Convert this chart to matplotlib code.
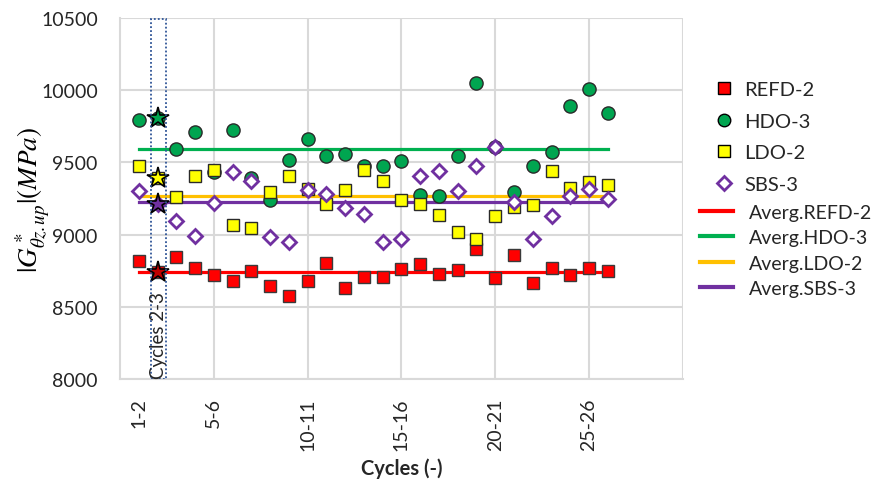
import numpy as np
import matplotlib.pyplot as plt
from matplotlib.lines import Line2D
from matplotlib.patches import Rectangle

plt.rcParams['font.family'] = ['Lato', 'DejaVu Sans']
plt.rcParams['mathtext.fontset'] = 'stix'

# cycle index (1 = "1-2", 2 = "2-3", ...)
cycles = np.arange(1, 27)
tick_pos = [1, 5, 10, 15, 20, 25]
tick_labels = ['1-2', '5-6', '10-11', '15-16', '20-21', '25-26']

refd2 = [8819, 8739, 8843, 8769, 8720, 8676, 8746, 8641, 8572, 8676,
         8801, 8630, 8704, 8704, 8762, 8796, 8727, 8755, 8900, 8697,
         8861, 8663, 8766, 8722, 8766, 8750]
hdo3 = [9793, 9805, 9593, 9713, 9431, 9724, 9390, 9242, 9517, 9662,
        9547, 9556, 9477, 9477, 9507, 9274, 9270, 9547, 10048, 9604,
        9297, 9472, 9574, 9888, 10008, 9842]
ldo2 = [9477, 9390, 9258, 9404, 9447, 9066, 9046, 9293, 9404, 9316,
        9212, 9309, 9447, 9368, 9240, 9212, 9138, 9021, 8970, 9131,
        9189, 9205, 9438, 9323, 9366, 9343]
sbs3 = [9300, 9212, 9092, 8990, 9219, 9436, 9368, 8985, 8951, 9309,
        9281, 9182, 9143, 8951, 8970, 9408, 9443, 9304, 9477, 9604,
        9224, 8970, 9131, 9270, 9316, 9247]

# average levels
avg_refd2 = 8739
avg_hdo3 = 9591
avg_ldo2 = 9267
avg_sbs3 = 9224

highlight = 2  # cycles 2-3

fig = plt.figure(figsize=(8.76, 4.85), dpi=100)
ax = fig.add_axes([0.137, 0.2165, 0.6425, 0.7443])

# average lines
ax.plot([cycles[0], cycles[-1]], [avg_refd2] * 2, color='#FF0000', lw=2.3, zorder=2)
ax.plot([cycles[0], cycles[-1]], [avg_hdo3] * 2, color='#00B050', lw=2.3, zorder=2)
ax.plot([cycles[0], cycles[-1]], [avg_ldo2] * 2, color='#FFC000', lw=2.3, zorder=2)
ax.plot([cycles[0], cycles[-1]], [avg_sbs3] * 2, color='#7030A0', lw=2.3, zorder=2)

# data points
ax.plot(cycles, refd2, 's', ms=9, mfc='#FF0000', mec='#3a3a3a', mew=1.0, zorder=3)
ax.plot(cycles, hdo3, 'o', ms=9.5, mfc='#00A550', mec='#2a2a2a', mew=1.0, zorder=3)
ax.plot(cycles, ldo2, 's', ms=9, mfc='#FFFF00', mec='#2a2a2a', mew=1.0, zorder=4)
ax.plot(cycles, sbs3, 'D', ms=7.5, mfc='white', mec='#7030A0', mew=2.0, zorder=5)

# stars on the highlighted cycle
i = highlight - 1
for vals, col in [(refd2, '#C00000'), (hdo3, '#00A550'), (ldo2, '#FFFF00'), (sbs3, '#7030A0')]:
    ax.plot(cycles[i], vals[i], '*', ms=16, mfc=col, mec='black', mew=1.2, zorder=6)

# dotted box marking cycles 2-3
ax.add_patch(Rectangle((highlight - 0.34, 8000), 0.8, 2490, fill=False,
                       ec='#2F5597', ls=(0, (1, 1.2)), lw=1.3, zorder=7))
ax.text(highlight + 0.06, 8010, 'Cycles 2-3', rotation=90, ha='center', va='bottom',
        fontsize=13.5, color='#262626', zorder=7)

ax.set_xlim(0, 30)
ax.set_ylim(8000, 10500)
ax.set_yticks(np.arange(8000, 10501, 500))
ax.set_xticks(tick_pos)
ax.set_xticklabels(tick_labels, rotation=90, va='top')
ax.tick_params(axis='both', length=0, labelsize=14, colors='#262626')
ax.tick_params(axis='x', pad=13)
ax.tick_params(axis='y', pad=16)
ax.grid(axis='y', color='#D9D9D9', lw=1.5, zorder=0)
for g in range(5, 31, 5):
    ax.axvline(g, color='#D9D9D9', lw=1.5, zorder=0)
for s in ax.spines.values():
    s.set_visible(False)
ax.spines['left'].set_visible(True)
ax.spines['bottom'].set_visible(True)
ax.spines['left'].set_color('#D9D9D9')
ax.spines['bottom'].set_color('#D9D9D9')
ax.spines['left'].set_linewidth(1.5)
ax.spines['bottom'].set_linewidth(1.5)

ax.set_xlabel('Cycles (-)', fontsize=14.5, fontweight='bold', color='#262626', labelpad=6)
ax.set_ylabel(r'$|G^*_{\theta z.up}|(MPa)$', fontsize=19.5, color='black')
ax.yaxis.set_label_coords(-0.122, 0.5)

# legends
mk = [Line2D([], [], ls='none', marker='s', ms=9, mfc='#FF0000', mec='black'),
      Line2D([], [], ls='none', marker='o', ms=9, mfc='#00A550', mec='black'),
      Line2D([], [], ls='none', marker='s', ms=9, mfc='#FFFF00', mec='black'),
      Line2D([], [], ls='none', marker='D', ms=7.5, mfc='white', mec='#7030A0', mew=2)]
leg1 = fig.legend(mk, ['REFD-2', 'HDO-3', 'LDO-2', 'SBS-3'], loc='upper left',
                  bbox_to_anchor=(0.8154, 0.831), frameon=False, fontsize=14.5,
                  handlelength=1, handletextpad=0.5, labelspacing=0.72,
                  borderpad=0, borderaxespad=0)
ln = [Line2D([], [], color=c, lw=3) for c in ['#FF0000', '#00B050', '#FFC000', '#7030A0']]
leg2 = fig.legend(ln, ['Averg.REFD-2', 'Averg.HDO-3', 'Averg.LDO-2', 'Averg.SBS-3'],
                  loc='upper left', bbox_to_anchor=(0.799, 0.5775), frameon=False,
                  fontsize=14, handlelength=1.7, handletextpad=0.82, labelspacing=0.43,
                  borderpad=0, borderaxespad=0)
for lg in (leg1, leg2):
    for t in lg.get_texts():
        t.set_color('#262626')

fig.savefig('out.png', dpi=100)
